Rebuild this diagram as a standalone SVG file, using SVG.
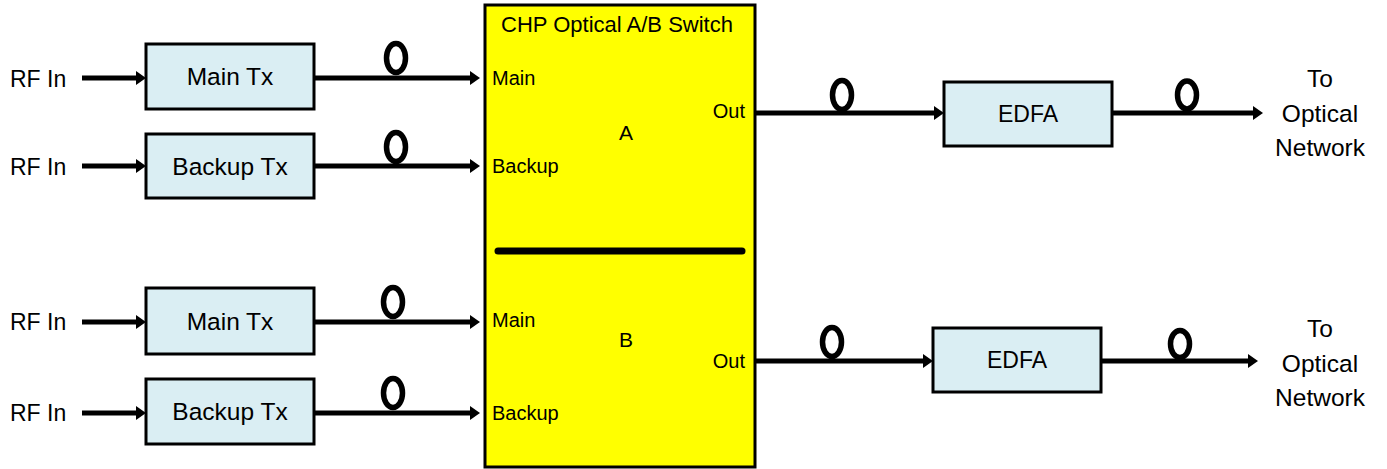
<svg xmlns="http://www.w3.org/2000/svg" width="1387" height="469" viewBox="0 0 1387 469">
<defs>
<style>
.bg{fill:#ffffff}
.box{fill:#DAEEF3;stroke:#000;stroke-width:3}
.sw{fill:#FFFF00;stroke:#000;stroke-width:3}
.ln{stroke:#000;stroke-width:5;fill:none}
.loop{fill:none;stroke:#000;stroke-width:5.5}
.t{font-family:"Liberation Sans",Arial,sans-serif;fill:#000}
.big{font-size:24.5px}
.mid{font-size:23px}
.sm{font-size:20px}
.c{text-anchor:middle}
.r{text-anchor:end}
</style>
<marker id="ah" markerUnits="userSpaceOnUse" viewBox="0 0 10 14" markerWidth="10" markerHeight="14" refX="1" refY="7" orient="auto">
<path d="M0,0 L10,7 L0,14 z" fill="#000"/>
</marker>
</defs>
<rect class="bg" x="0" y="0" width="1387" height="469"/>

<g id="switch">
<rect class="sw" x="485" y="5" width="270" height="462"/>
<text class="t c" x="617" y="32" style="font-size:22px">CHP Optical A/B Switch</text>
<line x1="498" y1="251" x2="742" y2="251" stroke="#000" stroke-width="7" stroke-linecap="round"/>
<text class="t sm" x="492" y="85">Main</text>
<text class="t sm" x="492" y="173">Backup</text>
<text class="t sm r" x="745" y="118">Out</text>
<text class="t c" x="626" y="140" style="font-size:21px">A</text>
<text class="t sm" x="492" y="327">Main</text>
<text class="t sm" x="492" y="420">Backup</text>
<text class="t sm r" x="745" y="368">Out</text>
<text class="t c" x="626" y="347" style="font-size:21px">B</text>
</g>

<g id="rf1"><text class="t mid" x="10" y="87">RF In</text></g>
<g id="rf2"><text class="t mid" x="10" y="175">RF In</text></g>
<g id="rf3"><text class="t mid" x="10" y="330">RF In</text></g>
<g id="rf4"><text class="t mid" x="10" y="421">RF In</text></g>

<g id="mainTxA"><rect class="box" x="146" y="44" width="168" height="65"/><text class="t big c" x="230" y="85">Main Tx</text></g>
<g id="backupTxA"><rect class="box" x="146" y="134" width="168" height="64"/><text class="t big c" x="230" y="175">Backup Tx</text></g>
<g id="mainTxB"><rect class="box" x="146" y="288" width="168" height="66"/><text class="t big c" x="230" y="330">Main Tx</text></g>
<g id="backupTxB"><rect class="box" x="146" y="379" width="168" height="65"/><text class="t big c" x="230" y="420">Backup Tx</text></g>

<g id="edfaA"><rect class="box" x="944" y="82" width="168" height="64"/><text class="t c" x="1028" y="122" style="font-size:23px">EDFA</text></g>
<g id="edfaB"><rect class="box" x="933" y="328" width="168" height="64"/><text class="t c" x="1017" y="368" style="font-size:23px">EDFA</text></g>

<g id="netA"><text class="t c" x="1320" y="87" style="font-size:24.5px">To</text><text class="t c" x="1320" y="122" style="font-size:24.5px">Optical</text><text class="t c" x="1320" y="156" style="font-size:24.5px">Network</text></g>
<g id="netB"><text class="t c" x="1320" y="337" style="font-size:24.5px">To</text><text class="t c" x="1320" y="372" style="font-size:24.5px">Optical</text><text class="t c" x="1320" y="406" style="font-size:24.5px">Network</text></g>

<g id="connectors">
<line class="ln" x1="82" y1="78" x2="137" y2="78" marker-end="url(#ah)"/>
<line class="ln" x1="82" y1="166" x2="137" y2="166" marker-end="url(#ah)"/>
<line class="ln" x1="82" y1="322" x2="137" y2="322" marker-end="url(#ah)"/>
<line class="ln" x1="82" y1="413" x2="137" y2="413" marker-end="url(#ah)"/>

<line class="ln" x1="314" y1="78" x2="471" y2="78" marker-end="url(#ah)"/>
<line class="ln" x1="314" y1="166" x2="471" y2="166" marker-end="url(#ah)"/>
<line class="ln" x1="314" y1="322" x2="471" y2="322" marker-end="url(#ah)"/>
<line class="ln" x1="314" y1="413" x2="471" y2="413" marker-end="url(#ah)"/>

<line class="ln" x1="755" y1="113" x2="935" y2="113" marker-end="url(#ah)"/>
<line class="ln" x1="1112" y1="113" x2="1254" y2="113" marker-end="url(#ah)"/>
<line class="ln" x1="755" y1="361" x2="924" y2="361" marker-end="url(#ah)"/>
<line class="ln" x1="1101" y1="361" x2="1249" y2="361" marker-end="url(#ah)"/>

<ellipse class="loop" cx="396" cy="58" rx="9.5" ry="14.5"/>
<ellipse class="loop" cx="396" cy="147" rx="9.5" ry="14.5"/>
<ellipse class="loop" cx="393" cy="302" rx="9.5" ry="14.5"/>
<ellipse class="loop" cx="393" cy="393" rx="9.5" ry="14.5"/>
<ellipse class="loop" cx="842" cy="95" rx="9.5" ry="14.5"/>
<ellipse class="loop" cx="1187" cy="95" rx="9.5" ry="14"/>
<ellipse class="loop" cx="832" cy="342" rx="9.5" ry="14.5"/>
<ellipse class="loop" cx="1180" cy="344" rx="9.5" ry="13.5"/>
</g>
</svg>
